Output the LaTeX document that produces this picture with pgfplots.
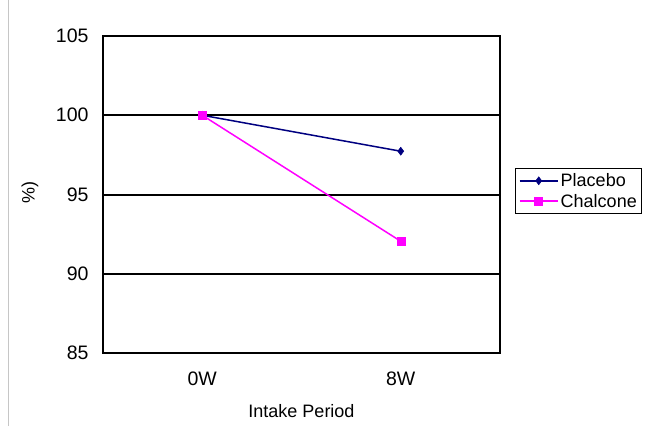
\documentclass[border=0pt]{standalone}
\usepackage{fontspec}
\setmainfont{Liberation Sans}
\usepackage{pgfplots}
\pgfplotsset{compat=1.18}
\definecolor{placebo}{RGB}{0,0,128}
\definecolor{chalcone}{RGB}{255,0,255}
\begin{document}
\begin{tikzpicture}[x=1pt,y=1pt]
\path[use as bounding box] (0,0) rectangle (645,426);
\draw[gray!45, line width=1pt] (8,0) -- (8,426);
\begin{axis}[
  at={(103pt,73pt)}, anchor=south west,
  scale only axis, width=397pt, height=317pt,
  xmin=-0.5, xmax=1.5, ymin=85, ymax=105,
  axis line style={black, line width=2pt},
  xtick={0,1}, xticklabels={0W,8W},
  xtick style={draw=none},
  extra x ticks={0.5}, extra x tick labels={},
  extra x tick style={major tick length=6pt, tick align=inside, tick style={black, line width=1.2pt}},
  ytick={85,90,95,100,105},
  tick align=inside, major tick length=5pt,
  ytick style={black, line width=1.2pt},
  ymajorgrids, grid style={black, line width=2pt},
  /pgf/number format/assume math mode=true,
  tick label style={font=\fontsize{19.5}{21}\selectfont},
  yticklabel style={xshift=-11pt},
  xticklabel style={yshift=-15pt},
  xlabel={Intake Period},
  xlabel style={font=\fontsize{18}{20}\selectfont, at={(axis description cs:0.5,-0.183)}, anchor=center},
  ylabel={\%)},
  ylabel style={font=\fontsize{18}{20}\selectfont, at={(axis description cs:-0.184,0.505)}, anchor=center},
  legend style={at={(rel axis cs:1.038,0.584)}, anchor=north west, draw=black, line width=1.3pt,
    font=\fontsize{18}{20}\selectfont, inner sep=3pt, row sep=2pt,
    /tikz/every even column/.append style={column sep=3pt}},
  legend image code/.code={%
    \draw[mark repeat=2, mark phase=2, #1, line width=2pt] plot coordinates {(0pt,0pt) (19pt,0pt) (38pt,0pt)};},
  legend cell align=left,
  clip=false,
]
\addplot[color=placebo, line width=1.5pt, mark=diamond*, mark size=4pt, mark options={fill=placebo, line width=0.5pt}]
  coordinates {(0,100) (1,97.73)};
\addlegendentry{Placebo}
\addplot[color=chalcone, line width=1.5pt, mark=square*, mark size=4pt, mark options={fill=chalcone, line width=0.5pt}]
  coordinates {(0,100) (1,92.05)};
\addlegendentry{Chalcone}
\end{axis}
\end{tikzpicture}
\end{document}
